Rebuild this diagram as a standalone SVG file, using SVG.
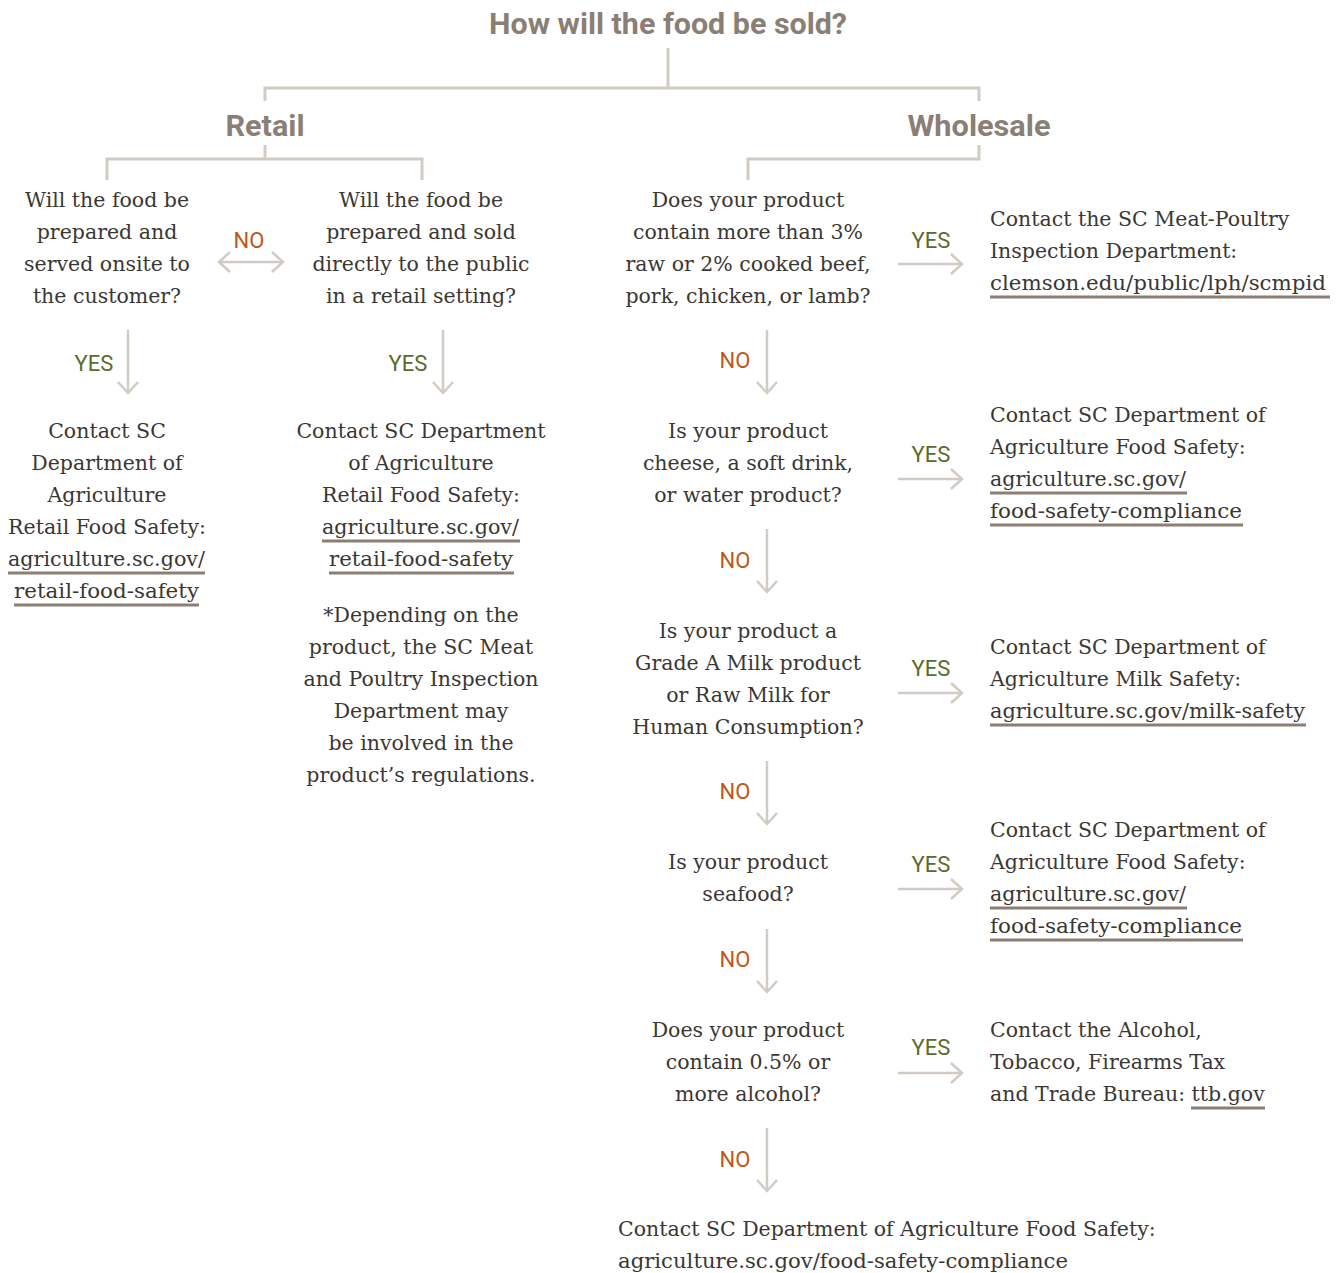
<svg xmlns="http://www.w3.org/2000/svg" width="1344" height="1273" viewBox="0 0 1344 1273">
<style>
.h{font-family:Roboto,"Liberation Sans",sans-serif;font-weight:700;font-size:30px;fill:#8b7e74;text-anchor:middle}
.t{font-family:"DejaVu Serif","Liberation Serif",serif;font-size:20.5px;fill:#3b3733}
.c{text-anchor:middle}
.yes{font-family:Roboto,"Liberation Sans",sans-serif;font-size:22px;fill:#5b6b2b;text-anchor:middle}
.no{font-family:Roboto,"Liberation Sans",sans-serif;font-size:22px;fill:#c0561a;text-anchor:middle}
.ln{fill:none;stroke:#d2cbc3;stroke-width:3}
.ar{fill:none;stroke:#d2cbc3;stroke-width:2.5}
.ul{stroke:#8b7e74;stroke-width:3}
</style>
<defs>
<marker id="ah" markerUnits="userSpaceOnUse" viewBox="-14 -13 16 26" refX="0" refY="0" markerWidth="16" markerHeight="26" orient="auto-start-reverse">
<path d="M-11,-10 L0,0 L-11,10" fill="none" stroke="#d2cbc3" stroke-width="2.5"/>
</marker>
</defs>
<rect width="1344" height="1273" fill="#ffffff"/>

<g id="connectors">
<path class="ln" d="M668,48 V88"/>
<path class="ln" d="M265,101 V88 H979 V101"/>
<path class="ln" d="M265,145 V159 M107,180 V159 H422 V180"/>
<path class="ln" d="M979,145 V159 H748 V180"/>
<path class="ar" d="M219,262 H283" marker-start="url(#ah)" marker-end="url(#ah)"/>
<path class="ar" d="M128,330 V393" marker-end="url(#ah)"/>
<path class="ar" d="M443,330 V393" marker-end="url(#ah)"/>
<path class="ar" d="M767,330 V393" marker-end="url(#ah)"/>
<path class="ar" d="M767,529 V592" marker-end="url(#ah)"/>
<path class="ar" d="M767,761 V824" marker-end="url(#ah)"/>
<path class="ar" d="M767,929 V992" marker-end="url(#ah)"/>
<path class="ar" d="M767,1128 V1191" marker-end="url(#ah)"/>
<path class="ar" d="M898,264 H962" marker-end="url(#ah)"/>
<path class="ar" d="M898,479 H962" marker-end="url(#ah)"/>
<path class="ar" d="M898,693 H962" marker-end="url(#ah)"/>
<path class="ar" d="M898,889 H962" marker-end="url(#ah)"/>
<path class="ar" d="M898,1073 H962" marker-end="url(#ah)"/>
<text class="no" x="249" y="248">NO</text>
<text class="yes" x="94" y="371">YES</text>
<text class="yes" x="408" y="371">YES</text>
<text class="no" x="735" y="368">NO</text>
<text class="no" x="735" y="568">NO</text>
<text class="no" x="735" y="799">NO</text>
<text class="no" x="735" y="967">NO</text>
<text class="no" x="735" y="1167">NO</text>
<text class="yes" x="931" y="248">YES</text>
<text class="yes" x="931" y="462">YES</text>
<text class="yes" x="931" y="676">YES</text>
<text class="yes" x="931" y="872">YES</text>
<text class="yes" x="931" y="1055">YES</text>
</g>

<g id="title"><text class="h" x="668" y="34" textLength="358" lengthAdjust="spacingAndGlyphs">How will the food be sold?</text></g>
<g id="retail"><text class="h" x="265" y="136" textLength="79" lengthAdjust="spacingAndGlyphs">Retail</text></g>
<g id="wholesale"><text class="h" x="979" y="136" textLength="143" lengthAdjust="spacingAndGlyphs">Wholesale</text></g>

<g id="q-onsite">
<text class="t c" x="107" y="207">Will the food be</text>
<text class="t c" x="107" y="239">prepared and</text>
<text class="t c" x="107" y="271">served onsite to</text>
<text class="t c" x="107" y="303">the customer?</text>
</g>

<g id="q-retail">
<text class="t c" x="421" y="207">Will the food be</text>
<text class="t c" x="421" y="239">prepared and sold</text>
<text class="t c" x="421" y="271">directly to the public</text>
<text class="t c" x="421" y="303">in a retail setting?</text>
</g>

<g id="r-onsite">
<text class="t c" x="107" y="438">Contact SC</text>
<text class="t c" x="107" y="470">Department of</text>
<text class="t c" x="107" y="502">Agriculture</text>
<text class="t c" x="107" y="534">Retail Food Safety:</text>
<text class="t" x="8" y="566" textLength="197" lengthAdjust="spacingAndGlyphs">agriculture.sc.gov/</text>
<text class="t" x="14" y="598" textLength="185" lengthAdjust="spacingAndGlyphs">retail-food-safety</text>
<line class="ul" x1="8" y1="573" x2="205" y2="573"/>
<line class="ul" x1="14" y1="605" x2="199" y2="605"/>
</g>

<g id="r-retail">
<text class="t c" x="421" y="438">Contact SC Department</text>
<text class="t c" x="421" y="470">of Agriculture</text>
<text class="t c" x="421" y="502">Retail Food Safety:</text>
<text class="t" x="322" y="534" textLength="197" lengthAdjust="spacingAndGlyphs">agriculture.sc.gov/</text>
<text class="t" x="329" y="566" textLength="184" lengthAdjust="spacingAndGlyphs">retail-food-safety</text>
<line class="ul" x1="322" y1="541" x2="520" y2="541"/>
<line class="ul" x1="329" y1="573" x2="514" y2="573"/>
</g>

<g id="note">
<text class="t c" x="421" y="622">*Depending on the</text>
<text class="t c" x="421" y="654">product, the SC Meat</text>
<text class="t c" x="421" y="686">and Poultry Inspection</text>
<text class="t c" x="421" y="718">Department may</text>
<text class="t c" x="421" y="750">be involved in the</text>
<text class="t c" x="421" y="782">product’s regulations.</text>
</g>

<g id="q-meat">
<text class="t c" x="748" y="207">Does your product</text>
<text class="t c" x="748" y="239">contain more than 3%</text>
<text class="t c" x="748" y="271">raw or 2% cooked beef,</text>
<text class="t c" x="748" y="303">pork, chicken, or lamb?</text>
</g>
<g id="r-meat">
<text class="t" x="990" y="226">Contact the SC Meat-Poultry</text>
<text class="t" x="990" y="258">Inspection Department:</text>
<text class="t" x="990" y="290" textLength="336" lengthAdjust="spacingAndGlyphs">clemson.edu/public/lph/scmpid</text>
<line class="ul" x1="990" y1="297" x2="1330" y2="297"/>
</g>

<g id="q-cheese">
<text class="t c" x="748" y="438">Is your product</text>
<text class="t c" x="748" y="470">cheese, a soft drink,</text>
<text class="t c" x="748" y="502">or water product?</text>
</g>
<g id="r-cheese">
<text class="t" x="990" y="422">Contact SC Department of</text>
<text class="t" x="990" y="454">Agriculture Food Safety:</text>
<text class="t" x="990" y="486" textLength="196" lengthAdjust="spacingAndGlyphs">agriculture.sc.gov/</text>
<text class="t" x="990" y="518" textLength="252" lengthAdjust="spacingAndGlyphs">food-safety-compliance</text>
<line class="ul" x1="990" y1="493" x2="1187" y2="493"/>
<line class="ul" x1="990" y1="525" x2="1243" y2="525"/>
</g>

<g id="q-milk">
<text class="t c" x="748" y="638">Is your product a</text>
<text class="t c" x="748" y="670">Grade A Milk product</text>
<text class="t c" x="748" y="702">or Raw Milk for</text>
<text class="t c" x="748" y="734">Human Consumption?</text>
</g>
<g id="r-milk">
<text class="t" x="990" y="654">Contact SC Department of</text>
<text class="t" x="990" y="686">Agriculture Milk Safety:</text>
<text class="t" x="990" y="718" textLength="315" lengthAdjust="spacingAndGlyphs">agriculture.sc.gov/milk-safety</text>
<line class="ul" x1="990" y1="725" x2="1306" y2="725"/>
</g>

<g id="q-seafood">
<text class="t c" x="748" y="869">Is your product</text>
<text class="t c" x="748" y="901">seafood?</text>
</g>
<g id="r-seafood">
<text class="t" x="990" y="837">Contact SC Department of</text>
<text class="t" x="990" y="869">Agriculture Food Safety:</text>
<text class="t" x="990" y="901" textLength="196" lengthAdjust="spacingAndGlyphs">agriculture.sc.gov/</text>
<text class="t" x="990" y="933" textLength="252" lengthAdjust="spacingAndGlyphs">food-safety-compliance</text>
<line class="ul" x1="990" y1="908" x2="1187" y2="908"/>
<line class="ul" x1="990" y1="940" x2="1243" y2="940"/>
</g>

<g id="q-alcohol">
<text class="t c" x="748" y="1037">Does your product</text>
<text class="t c" x="748" y="1069">contain 0.5% or</text>
<text class="t c" x="748" y="1101">more alcohol?</text>
</g>
<g id="r-alcohol">
<text class="t" x="990" y="1037">Contact the Alcohol,</text>
<text class="t" x="990" y="1069">Tobacco, Firearms Tax</text>
<text class="t" x="990" y="1101">and Trade Bureau: <tspan>ttb.gov</tspan></text>
<line class="ul" x1="1191" y1="1108" x2="1265" y2="1108"/>
</g>

<g id="r-final">
<text class="t" x="618" y="1236">Contact SC Department of Agriculture Food Safety:</text>
<text class="t" x="618" y="1268" textLength="450" lengthAdjust="spacingAndGlyphs">agriculture.sc.gov/food-safety-compliance</text>
</g>
</svg>
